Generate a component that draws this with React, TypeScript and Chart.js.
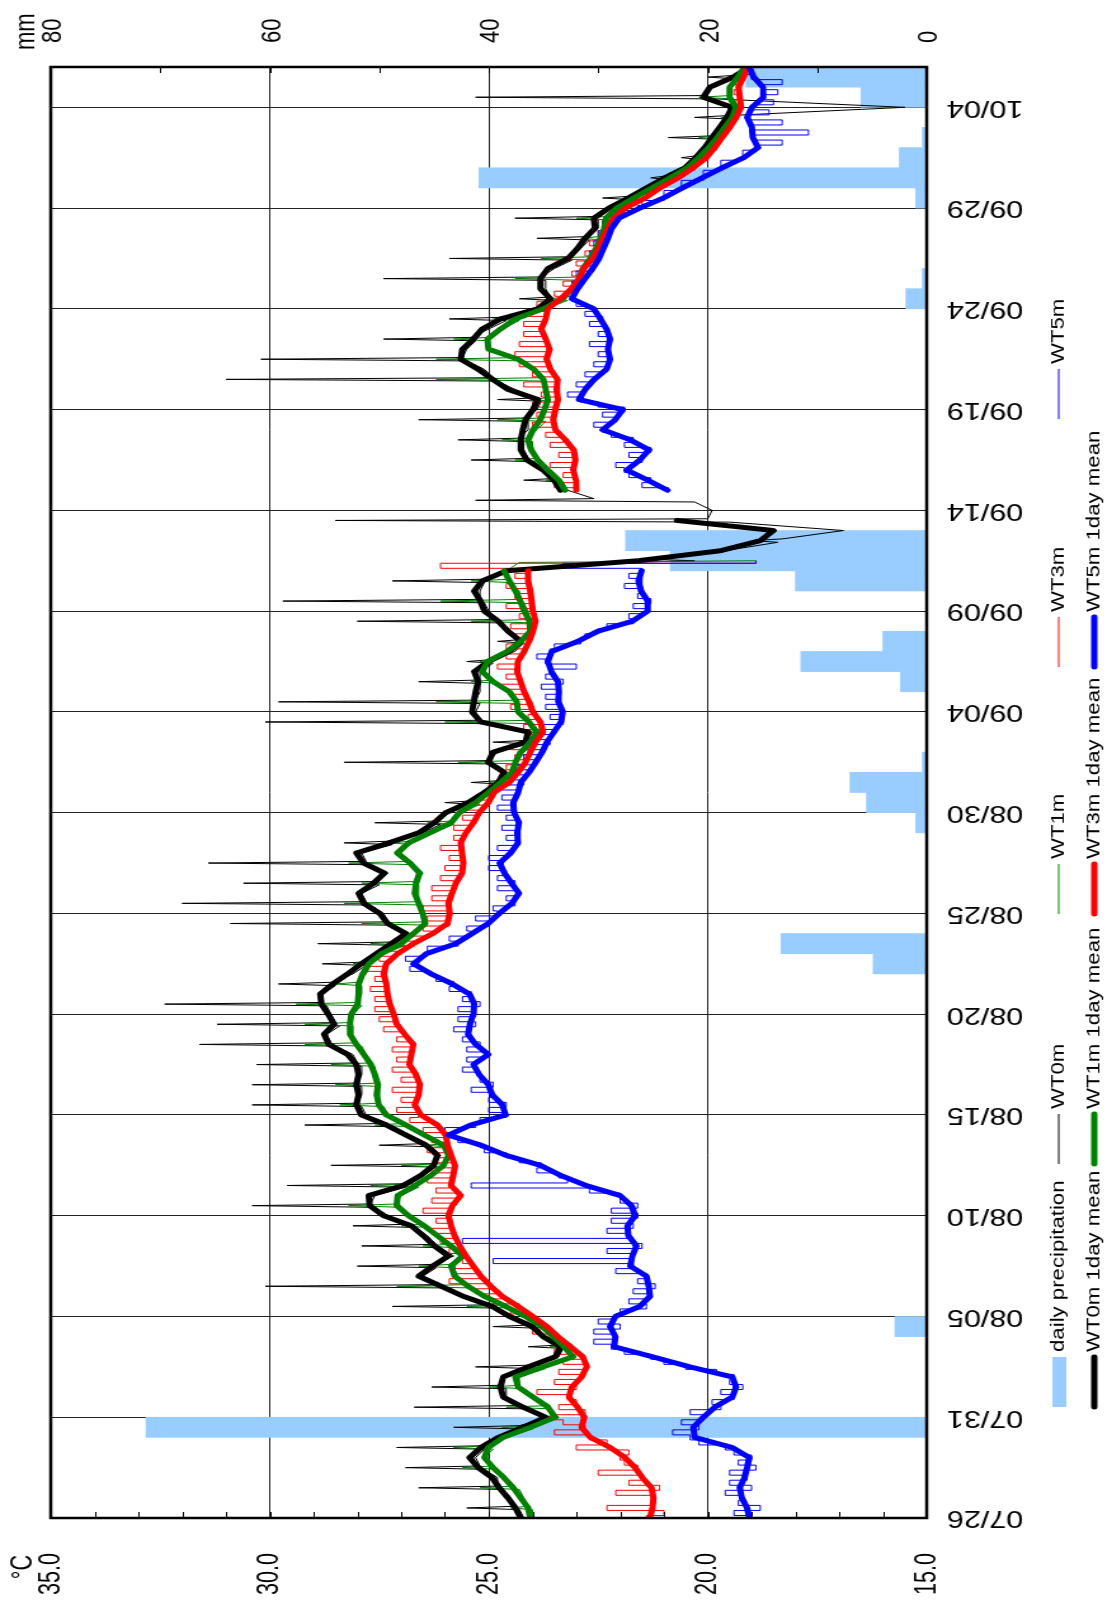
import { useEffect, useRef } from 'react';
import { Chart, registerables } from 'chart.js';

Chart.register(...registerables);

// Drawing surface (landscape), shown rotated a quarter turn on the page
const CANVAS_W = 1607;
const CANVAS_H = 872;
const STRETCH = 1107 / CANVAS_H;

const FONT = '"Liberation Sans", Arial, sans-serif';

// Time axis: days since 07/26 00:00
const dateTickDays = [0, 5, 10, 15, 20, 25, 30, 35, 40, 45, 50, 55, 60, 65, 70];
const dateLabels = ['07/26', '07/31', '08/05', '08/10', '08/15', '08/20', '08/25', '08/30', '09/04', '09/09', '09/14', '09/19', '09/24', '09/29', '10/04'];
const tempTicks = [15, 20, 25, 30, 35];
const precipTicks = [0, 20, 40, 60, 80];

// Daily precipitation (mm), one value per day from 07/26 to 10/05
const precipitation = [
  0, 0, 0, 0, 71.3, 0, 0, 0, 0, 2.9,
  0, 0, 0, 0, 0, 0, 0, 0, 0, 0,
  0, 0, 0, 0, 0, 0, 0, 4.9, 13.3, 0,
  0, 0, 0, 0, 1.0, 5.5, 7.0, 0.4, 0, 0,
  0, 2.4, 11.5, 4.0, 0, 0, 12.0, 23.4, 27.5, 0,
  0, 0, 0, 0, 0, 0, 0, 0, 0, 0,
  1.9, 0.4, 0, 0, 0, 1.0, 40.9, 2.5, 0.4, 0,
  6.0, 16.5,
];

// 1-day running means, every 12 hours from 07/26 00:00
const wt0mMean = [
  24.27, 24.39, 24.56, 24.76, 24.92, 25.24, 25.44, 25.18, 24.78, 24.22,
  23.70, 24.22, 24.67, 24.73, 24.67, 24.10, 23.48, 23.36, 23.76, 24.01,
  24.53, 24.92, 25.58, 26.09, 26.60, 26.28, 25.92, 26.24, 26.49, 26.77,
  27.40, 27.72, 27.74, 26.95, 26.55, 26.26, 26.17, 26.43, 26.89, 27.34,
  27.91, 28.02, 27.97, 28.02, 27.97, 28.02, 28.22, 28.65, 28.76, 28.53,
  28.67, 28.82, 28.85, 28.56, 28.22, 27.91, 27.57, 27.23, 26.89, 27.31,
  27.49, 27.85, 27.97, 27.63, 27.38, 27.86, 28.02, 27.28, 26.60, 26.24,
  25.98, 25.47, 25.10, 24.78, 24.65, 25.01, 24.90, 24.16, 24.10, 25.18,
  25.38, 25.34, 25.30, 25.24, 25.33, 25.01, 24.53, 24.27, 24.56, 24.78,
  25.10, 25.19, 25.33, 25.15, 24.60, 21.60, 19.70, 18.80, 18.50, 20.70,
  null, null, 23.36, 23.51, 23.76, 24.13, 24.27, 24.27, 24.22, 24.16,
  23.99, 23.88, 24.56, 24.91, 25.24, 25.64, 25.60, 25.35, 25.15, 24.73,
  23.88, 23.59, 23.82, 23.82, 23.65, 23.19, 22.97, 22.80, 22.57, 22.60,
  22.26, 21.81, 21.40, 20.98, 20.52, 20.27, 20.07, 19.90, 19.73, 19.56,
  19.44, 20.10, 19.95, 19.42, 19.05,
];
const wt1mMean = [
  24.05, 24.10, 24.27, 24.44, 24.65, 24.90, 25.10, 25.01, 24.67, 24.05,
  23.48, 23.65, 23.99, 24.33, 24.39, 23.76, 23.08, 23.28, 23.53, 23.78,
  24.16, 24.61, 25.10, 25.47, 25.78, 25.86, 25.60, 25.86, 26.17, 26.47,
  26.83, 27.10, 27.08, 26.68, 26.32, 26.03, 25.92, 26.03, 26.47, 26.89,
  27.34, 27.51, 27.56, 27.53, 27.60, 27.69, 27.85, 28.02, 28.17, 28.17,
  28.14, 27.99, 27.97, 27.97, 27.88, 27.74, 27.45, 27.00, 26.72, 26.45,
  26.51, 26.60, 26.69, 26.66, 26.58, 26.80, 27.09, 26.83, 26.34, 25.86,
  25.67, 25.30, 25.01, 24.73, 24.47, 24.39, 24.27, 24.05, 23.90, 24.08,
  24.33, 24.36, 24.53, 24.90, 25.15, 25.03, 24.58, 24.27, 24.05, 24.07,
  24.19, 24.28, 24.39, 24.53, 24.65, null, null, null, null, null,
  null, null, 23.26, 23.40, 23.65, 23.88, 24.03, 24.10, 23.99, 23.82,
  23.73, 23.65, 23.70, 23.75, 23.97, 24.33, 25.01, 25.03, 24.73, 24.39,
  23.76, 23.31, 23.10, 22.94, 22.85, 22.68, 22.55, 22.45, 22.36, 22.32,
  22.08, 21.69, 21.28, 20.86, 20.47, 20.20, 19.98, 19.78, 19.61, 19.44,
  19.36, 19.50, 19.50, 19.31, 19.16,
];
const wt3mMean = [
  21.32, 21.26, 21.24, 21.28, 21.49, 21.66, 21.89, 22.23, 22.68, 22.88,
  22.82, 22.97, 23.17, 23.10, 22.88, 22.76, 22.85, 23.13, 23.42, 23.67,
  23.99, 24.33, 24.69, 24.95, 25.18, 25.35, 25.52, 25.66, 25.78, 25.86,
  25.92, 25.83, 25.64, 25.86, 25.81, 25.77, 25.86, 25.94, 25.98, 26.17,
  26.55, 26.69, 26.60, 26.57, 26.66, 26.81, 26.77, 26.72, 26.92, 27.10,
  27.17, 27.26, 27.31, 27.34, 27.40, 27.34, 27.08, 26.72, 26.28, 25.94,
  25.89, 25.92, 25.84, 25.75, 25.61, 25.58, 25.61, 25.64, 25.52, 25.35,
  25.22, 25.01, 24.88, 24.53, 24.33, 24.16, 24.05, 23.93, 23.76, 23.82,
  23.99, 24.08, 24.19, 24.27, 24.35, 24.33, 24.19, 24.08, 23.99, 23.93,
  23.99, 24.02, 24.05, 24.10, 24.10, null, null, null, null, null,
  null, null, 23.00, 23.01, 23.07, 23.02, 23.06, 23.25, 23.48, 23.53,
  23.48, 23.42, 23.45, 23.43, 23.59, 23.68, 23.61, 23.70, 23.80, 23.70,
  23.65, 23.36, 23.11, 22.94, 22.83, 22.63, 22.49, 22.40, 22.28, 22.15,
  21.88, 21.43, 21.09, 20.67, 20.33, 20.03, 19.84, 19.67, 19.50, 19.35,
  19.24, 19.27, 19.30, 19.18, 19.10,
];
const wt5mMean = [
  19.05, 19.10, 19.22, 19.27, 19.16, 19.10, 19.05, 19.44, 20.30, 20.33,
  20.10, 19.84, 19.44, 19.35, 19.44, 20.41, 21.26, 22.14, 22.11, 22.23,
  22.11, 21.55, 21.32, 21.35, 21.40, 21.77, 21.72, 21.63, 21.81, 21.83,
  21.66, 21.74, 22.00, 22.78, 23.36, 23.82, 24.61, 25.18, 25.92, 25.41,
  24.61, 24.69, 24.92, 25.01, 25.22, 25.35, 25.01, 25.30, 25.47, 25.43,
  25.35, 25.33, 25.44, 25.83, 26.32, 26.72, 26.43, 25.75, 25.38, 25.01,
  24.76, 24.47, 24.31, 24.48, 24.64, 24.75, 24.50, 24.33, 24.35, 24.31,
  24.42, 24.44, 24.33, 24.27, 24.08, 23.93, 23.78, 23.67, 23.51, 23.35,
  23.31, 23.41, 23.40, 23.42, 23.57, 23.65, 23.56, 22.97, 22.51, 21.72,
  21.37, 21.37, 21.52, 21.58, 21.51, null, null, null, null, null,
  null, null, 20.92, 21.37, 21.85, 21.55, 21.34, 21.77, 22.40, 22.11,
  21.94, 22.94, 22.80, 22.59, 22.31, 22.23, 22.28, 22.23, 22.31, 22.45,
  22.60, 23.10, 22.97, 22.80, 22.63, 22.48, 22.38, 22.28, 22.19, 22.03,
  21.55, 21.01, 20.58, 20.13, 19.67, 19.18, 18.85, 18.97, 18.99, 19.10,
  18.99, 18.73, 18.74, 18.95, 19.05,
];

// Raw readings: four samples per day (hours of day listed below), plus 10/06 00:00
const surfaceHours = [0, 10, 12, 14];
const deepHours = [0, 6, 12, 18];

const wt0m = [
  24.2, 24.3, 25.5, 24.4, 24.5, 24.7, 26.6, 24.8,
  24.8, 25.1, 26.9, 25.2, 25.3, 25.1, 27.1, 25.2,
  24.7, 24.2, 25.8, 24.3, 23.6, 24.1, 26.7, 24.2,
  24.6, 24.6, 26.3, 24.8, 24.6, 24.0, 25.3, 24.1,
  23.4, 23.3, 24.1, 23.4, 23.7, 23.9, 24.9, 24.0,
  24.4, 24.8, 27.2, 24.9, 25.5, 26.0, 30.1, 26.1,
  26.5, 26.2, 28.0, 26.3, 25.8, 26.1, 27.9, 26.2,
  26.4, 26.7, 28.1, 26.8, 27.3, 27.6, 30.4, 27.7,
  27.6, 26.9, 29.6, 27.0, 26.5, 26.2, 28.6, 26.3,
  26.1, 26.3, 27.5, 26.4, 26.8, 27.2, 29.2, 27.3,
  27.8, 27.9, 30.4, 28.0, 27.9, 27.9, 30.4, 28.0,
  27.9, 27.9, 30.3, 28.0, 28.1, 28.5, 31.6, 28.6,
  28.7, 28.4, 31.2, 28.5, 28.6, 28.7, 32.4, 28.8,
  28.8, 28.5, 29.8, 28.6, 28.1, 27.8, 28.8, 27.9,
  27.5, 27.1, 28.9, 27.2, 26.8, 27.2, 30.9, 27.3,
  27.4, 27.7, 32.0, 27.8, 27.9, 27.5, 30.6, 27.6,
  27.3, 27.7, 31.4, 27.8, 27.9, 27.2, 28.3, 27.3,
  26.5, 26.1, 27.6, 26.2, 25.9, 25.4, 26.0, 25.4,
  25.0, 24.7, 25.4, 24.8, 24.6, 24.9, 28.3, 25.0,
  24.8, 24.1, 24.9, 24.2, 24.0, 25.0, 30.1, 25.2,
  25.3, 25.2, 29.8, 25.3, 25.2, 25.2, 26.6, 25.2,
  25.2, 24.9, 25.5, 25.0, 24.4, 24.2, 24.8, 24.3,
  24.5, 24.7, 28.0, 24.8, 25.0, 25.1, 29.7, 25.2,
  25.2, 25.1, 27.2, 25.1, 24.4, 21.9, 20.3, 21.5,
  19.6, 18.4, 19.0, 18.3, 16.9, 19.5, 28.5, 20.0,
  19.9, 20.3, 25.3, 22.6, 23.2, 23.4, 24.2, 23.5,
  23.7, 24.0, 25.4, 24.1, 24.2, 24.2, 25.7, 24.3,
  24.1, 24.1, 26.6, 24.2, 23.9, 23.8, 24.8, 23.9,
  24.4, 24.8, 31.0, 24.9, 25.1, 25.5, 30.2, 25.6,
  25.5, 25.3, 27.4, 25.4, 25.0, 24.6, 25.9, 24.7,
  23.8, 23.5, 24.3, 23.6, 23.7, 23.7, 27.4, 23.8,
  23.5, 23.1, 25.9, 23.2, 22.9, 22.7, 23.9, 22.8,
  22.5, 22.5, 24.4, 22.6, 22.2, 21.7, 22.4, 21.8,
  21.3, 20.9, 21.3, 21.0, 20.4, 20.2, 20.6, 20.3,
  20.0, 19.8, 20.9, 19.9, 19.6, 19.5, 20.3, 19.6,
  15.5, 19.8, 25.3, 20.1, 20.0, 19.4, 20.0, 19.4,
  19.0,
];
const wt1m = [
  24.0, 24.0, 24.5, 24.1, 24.2, 24.3, 25.2, 24.4,
  24.6, 24.8, 25.6, 24.9, 25.1, 24.9, 25.8, 25.0,
  24.6, 24.0, 24.7, 24.0, 23.4, 23.6, 24.6, 23.6,
  23.9, 24.2, 25.0, 24.3, 24.3, 23.7, 24.2, 23.8,
  23.0, 23.2, 23.6, 23.3, 23.5, 23.7, 24.1, 23.8,
  24.1, 24.5, 25.5, 24.6, 25.0, 25.4, 27.1, 25.5,
  25.7, 25.8, 26.6, 25.9, 25.5, 25.8, 26.5, 25.9,
  26.1, 26.4, 27.0, 26.5, 26.8, 27.0, 28.2, 27.1,
  27.0, 26.6, 27.7, 26.7, 26.3, 26.0, 27.0, 26.0,
  25.9, 26.0, 26.4, 26.0, 26.4, 26.8, 27.6, 26.9,
  27.3, 27.4, 28.4, 27.5, 27.5, 27.5, 28.5, 27.5,
  27.6, 27.6, 28.6, 27.7, 27.8, 27.9, 29.2, 28.0,
  28.1, 28.1, 29.2, 28.2, 28.1, 27.9, 29.4, 28.0,
  27.9, 27.9, 28.5, 28.0, 27.8, 27.7, 28.1, 27.7,
  27.4, 26.9, 27.7, 27.0, 26.7, 26.4, 27.9, 26.5,
  26.5, 26.5, 28.3, 26.6, 26.6, 26.6, 27.9, 26.7,
  26.5, 26.7, 28.2, 26.8, 27.0, 26.8, 27.2, 26.8,
  26.3, 25.8, 26.4, 25.9, 25.6, 25.2, 25.5, 25.3,
  25.0, 24.7, 25.0, 24.7, 24.4, 24.3, 25.7, 24.4,
  24.2, 24.0, 24.3, 24.1, 23.9, 24.0, 26.0, 24.1,
  24.3, 24.3, 26.2, 24.4, 24.5, 24.8, 25.4, 24.9,
  25.1, 25.0, 25.2, 25.0, 24.5, 24.2, 24.4, 24.3,
  24.0, 24.0, 25.4, 24.1, 24.1, 24.2, 26.1, 24.3,
  24.3, 24.5, 25.4, 24.5, 24.6, 24.3, 18.9, null,
  null, null, null, null, null, null, null, null,
  null, null, null, null, 23.2, 23.3, 23.7, 23.4,
  23.6, 23.8, 24.4, 23.9, 24.0, 24.0, 24.7, 24.1,
  23.9, 23.7, 24.8, 23.8, 23.7, 23.6, 24.0, 23.7,
  23.7, 23.7, 26.2, 23.8, 23.9, 24.2, 26.2, 24.3,
  25.0, 25.0, 25.8, 25.0, 24.7, 24.3, 24.9, 24.4,
  23.7, 23.2, 23.6, 23.3, 23.1, 22.9, 24.4, 22.9,
  22.8, 22.6, 23.8, 22.7, 22.5, 22.4, 22.9, 22.5,
  22.3, 22.3, 23.0, 22.3, 22.0, 21.6, 21.9, 21.7,
  21.2, 20.8, 21.0, 20.9, 20.4, 20.1, 20.3, 20.2,
  19.9, 19.7, 20.2, 19.8, 19.6, 19.4, 19.7, 19.4,
  19.3, 19.4, 20.2, 19.5, 19.5, 19.3, 19.4, 19.3,
  19.2,
];
const wt3m = [
  21.4, 21.0, 22.3, 21.3, 21.2, 22.1, 21.1, 21.8,
  21.5, 22.5, 21.6, 21.9, 22.0, 21.8, 23.0, 22.3,
  22.7, 23.5, 22.8, 23.3, 23.6, 22.8, 23.4, 23.0,
  23.2, 23.9, 23.0, 23.5, 22.9, 23.4, 22.8, 23.3,
  22.9, 23.5, 23.1, 23.4, 23.4, 24.0, 23.7, 24.1,
  24.0, 24.5, 24.3, 24.9, 24.7, 25.3, 25.0, 25.9,
  25.2, 25.8, 25.4, 25.6, 25.5, 25.9, 25.7, 26.1,
  25.8, 26.3, 25.9, 26.2, 25.9, 26.5, 25.8, 26.3,
  25.7, 26.2, 25.9, 26.4, 25.8, 26.3, 25.8, 26.2,
  25.9, 26.4, 25.9, 26.3, 26.0, 26.5, 26.2, 26.8,
  26.6, 27.1, 26.7, 27.0, 26.6, 27.2, 26.6, 27.0,
  26.7, 27.2, 26.8, 27.1, 26.8, 27.2, 26.7, 27.1,
  26.9, 27.4, 27.1, 27.5, 27.2, 27.6, 27.3, 27.6,
  27.3, 27.7, 27.3, 27.6, 27.4, 27.8, 27.3, 27.5,
  27.1, 27.3, 26.7, 26.9, 26.3, 26.5, 25.9, 26.4,
  25.9, 26.5, 25.9, 26.3, 25.8, 26.3, 25.8, 26.1,
  25.6, 26.0, 25.6, 25.9, 25.6, 26.1, 25.6, 25.8,
  25.5, 25.8, 25.4, 25.6, 25.2, 25.5, 25.0, 25.3,
  24.9, 25.0, 24.5, 24.7, 24.3, 24.6, 24.2, 24.4,
  24.1, 24.5, 23.9, 24.1, 23.8, 24.2, 23.8, 24.1,
  24.0, 24.5, 24.1, 24.4, 24.2, 24.7, 24.3, 24.6,
  24.4, 24.8, 24.3, 24.6, 24.2, 24.6, 24.1, 24.4,
  24.0, 24.5, 23.9, 24.3, 24.0, 24.6, 24.0, 24.4,
  24.1, 24.6, 24.1, 24.4, 24.1, 26.1, 18.9, null,
  null, null, null, null, null, null, null, null,
  null, null, null, null, 23.0, 23.5, 23.0, 23.3,
  23.1, 23.6, 23.0, 23.4, 23.1, 23.6, 23.3, 23.7,
  23.5, 24.0, 23.5, 23.9, 23.5, 24.0, 23.4, 23.8,
  23.5, 24.2, 23.4, 24.0, 23.6, 24.3, 23.7, 24.4,
  23.6, 24.3, 23.7, 24.2, 23.8, 24.2, 23.7, 24.1,
  23.7, 23.9, 23.4, 23.5, 23.1, 23.3, 22.9, 23.1,
  22.8, 23.0, 22.6, 22.8, 22.5, 22.7, 22.4, 22.5,
  22.3, 22.4, 22.1, 22.2, 21.9, 21.8, 21.4, 21.4,
  21.1, 21.0, 20.7, 20.6, 20.3, 20.3, 20.0, 20.0,
  19.8, 19.9, 19.7, 19.7, 19.5, 19.6, 19.4, 19.4,
  19.2, 19.4, 19.3, 19.4, 19.3, 19.4, 19.2, 19.2,
  19.1,
];
const wt5m = [
  19.0, 19.4, 18.8, 19.3, 19.2, 19.6, 19.0, 19.5,
  19.1, 19.5, 18.9, 19.3, 19.0, 19.4, 19.6, 20.2,
  20.4, 20.8, 20.2, 20.6, 20.1, 20.4, 19.7, 19.9,
  19.4, 19.7, 19.2, 19.5, 19.4, 19.8, 20.5, 21.0,
  21.3, 21.9, 22.2, 22.6, 22.1, 22.6, 22.0, 22.5,
  22.1, 22.0, 21.4, 21.8, 21.3, 21.7, 21.2, 21.6,
  21.4, 22.1, 21.7, 24.9, 21.7, 22.3, 21.5, 25.6,
  21.8, 22.3, 21.7, 22.2, 21.6, 22.2, 21.6, 22.0,
  22.0, 22.7, 25.4, 23.2, 23.4, 23.9, 23.8, 24.3,
  24.6, 25.1, 25.2, 25.7, 25.9, 26.0, 25.3, 25.2,
  24.6, 25.0, 24.6, 25.0, 24.9, 25.4, 24.9, 25.2,
  25.2, 25.6, 25.3, 25.5, 25.0, 25.5, 25.2, 25.6,
  25.5, 25.8, 25.3, 25.7, 25.3, 25.7, 25.2, 25.6,
  25.4, 25.9, 25.8, 26.2, 26.3, 26.8, 26.6, 26.9,
  26.4, 26.4, 25.7, 25.9, 25.4, 25.5, 25.0, 25.3,
  24.8, 24.9, 24.4, 24.6, 24.3, 24.8, 24.4, 24.8,
  24.6, 25.0, 24.7, 25.0, 24.5, 24.8, 24.3, 24.6,
  24.4, 24.7, 24.3, 24.6, 24.4, 24.8, 24.4, 24.7,
  24.3, 24.7, 24.2, 24.5, 24.1, 24.4, 23.9, 24.2,
  23.8, 24.1, 23.6, 23.9, 23.5, 23.8, 23.3, 23.6,
  23.3, 23.7, 23.4, 23.7, 23.4, 23.8, 23.3, 23.7,
  23.6, 23.0, 23.7, 23.9, 23.6, 23.5, 22.9, 22.8,
  22.5, 22.3, 21.7, 21.8, 21.4, 21.7, 21.3, 21.6,
  21.5, 21.9, 21.5, 21.8, 21.5, 23.3, 18.9, null,
  null, null, null, null, null, null, null, null,
  null, null, null, null, 20.9, 21.5, 21.3, 21.8,
  21.9, 22.1, 21.5, 21.8, 21.3, 21.9, 21.7, 22.2,
  22.4, 22.6, 22.1, 22.4, 21.9, 22.5, 22.9, 23.2,
  22.8, 23.0, 22.6, 22.8, 22.3, 22.6, 22.2, 22.5,
  22.3, 22.7, 22.2, 22.5, 22.3, 22.7, 22.4, 22.8,
  22.6, 23.0, 23.1, 23.2, 23.0, 23.1, 22.8, 23.0,
  22.6, 22.8, 22.5, 22.7, 22.4, 22.6, 22.3, 22.5,
  22.2, 22.4, 22.0, 22.1, 21.6, 21.5, 21.0, 21.0,
  20.6, 20.6, 20.1, 20.1, 19.7, 19.7, 19.2, 19.2,
  18.9, 18.3, 19.0, 17.7, 19.0, 18.3, 19.1, 18.6,
  19.0, 18.5, 18.7, 18.4, 18.7, 18.3, 19.0, 19.1,
  19.05,
];

const COLORS = {
  precip: 'rgb(153, 204, 255)',
  wt0m: 'rgb(0, 0, 0)',
  wt1m: 'rgb(0, 128, 0)',
  wt3m: 'rgb(255, 0, 0)',
  wt5m: 'rgb(0, 0, 255)',
};

const halfDaySeries = (values: (number | null)[]) =>
  values.map((v, k) => ({ x: k / 2, y: v }));
const sampledSeries = (values: (number | null)[], hours: number[]) =>
  values.map((v, k) => ({ x: Math.floor(k / 4) + hours[k % 4] / 24, y: v }));

const thin = (label: string, color: string, data: any[], order: number, stepped: false | 'middle') => ({
  type: 'line' as const,
  label,
  data,
  yAxisID: 'y',
  borderColor: color,
  backgroundColor: color,
  borderWidth: 1,
  pointRadius: 0,
  stepped,
  spanGaps: false,
  order,
});
const thick = (label: string, color: string, data: any[], order: number) => ({
  type: 'line' as const,
  label,
  data,
  yAxisID: 'y',
  borderColor: color,
  backgroundColor: color,
  borderWidth: 5,
  borderJoinStyle: 'round' as const,
  borderCapStyle: 'round' as const,
  pointRadius: 0,
  spanGaps: false,
  order,
});

// Legend grid: [datasetIndex, row, column]
const legendCells: [number, number, number][] = [
  [0, 0, 0], [1, 0, 1], [2, 0, 2], [3, 0, 3], [4, 0, 4],
  [5, 1, 0], [6, 1, 1], [7, 1, 2], [8, 1, 3],
];
const legendColumnX = [197, 440, 690, 937, 1185];
const legendRowY = [834, 862];

const decorPlugin = {
  id: 'frameLabelsLegend',
  afterDatasetsDraw(chart: any) {
    const { ctx, chartArea: a, scales } = chart;
    ctx.save();
    ctx.strokeStyle = '#000';
    ctx.lineWidth = 1;
    ctx.beginPath();
    for (let v = 16; v < 35; v++) {
      const y = Math.round(scales.y.getPixelForValue(v)) + 0.5;
      ctx.moveTo(a.left, y);
      ctx.lineTo(a.left + 6, y);
    }
    for (let v = 10; v < 80; v += 10) {
      const y = Math.round(scales.yP.getPixelForValue(v)) + 0.5;
      ctx.moveTo(a.right - 6, y);
      ctx.lineTo(a.right, y);
    }
    ctx.stroke();
    ctx.lineWidth = 2.5;
    ctx.strokeRect(a.left, a.top, a.right - a.left, a.bottom - a.top);
    ctx.restore();
  },
  afterDraw(chart: any) {
    const { ctx, chartArea: a, scales } = chart;
    ctx.save();
    ctx.fillStyle = '#000';
    ctx.textBaseline = 'middle';

    // temperature axis
    ctx.font = `24px ${FONT}`;
    ctx.textAlign = 'right';
    for (const v of tempTicks) {
      const y = scales.y.getPixelForValue(v);
      ctx.save();
      ctx.translate(54, y);
      ctx.scale(0.9, 1);
      ctx.fillText(v.toFixed(1), 0, 0);
      ctx.restore();
    }
    ctx.save();
    ctx.translate(52, 18);
    ctx.scale(0.9, 1);
    ctx.fillText('°C', 0, 0);
    ctx.restore();

    // precipitation axis
    ctx.font = `22px ${FONT}`;
    ctx.textAlign = 'left';
    for (const v of precipTicks) {
      const y = scales.yP.getPixelForValue(v);
      ctx.fillText(String(v), a.right + 24, y + 2);
    }
    ctx.fillText('mm', a.right + 17, 21);

    // legend
    const ds = chart.data.datasets;
    ctx.font = `15px ${FONT}`;
    for (const [i, row, col] of legendCells) {
      const d = ds[i];
      const x0 = legendColumnX[col];
      const y = legendRowY[row];
      if (d.type === 'bar') {
        ctx.fillStyle = d.backgroundColor;
        ctx.fillRect(x0 + 3, y - 5, 50, 11);
      } else {
        ctx.strokeStyle = d.borderColor;
        ctx.lineWidth = d.borderWidth;
        ctx.lineCap = d.borderWidth > 2 ? 'round' : 'butt';
        ctx.beginPath();
        ctx.moveTo(x0 + 3, y);
        ctx.lineTo(x0 + 53, y);
        ctx.stroke();
      }
      ctx.fillStyle = '#000';
      ctx.save();
      ctx.translate(x0 + 58, y);
      ctx.scale(1.48, 1);
      ctx.fillText(d.label, 0, 0);
      ctx.restore();
    }
    ctx.restore();
  },
};

export default function App() {
  const canvasRef = useRef<HTMLCanvasElement>(null);

  useEffect(() => {
    const canvas = canvasRef.current;
    if (!canvas) return;
    Chart.defaults.font.family = FONT;
    Chart.defaults.color = '#000';

    const chart = new Chart(canvas, {
      type: 'line',
      data: {
        datasets: [
          {
            type: 'bar',
            label: 'daily precipitation',
            data: precipitation.map((v, i) => ({ x: i + 0.5, y: v })),
            yAxisID: 'yP',
            backgroundColor: COLORS.precip,
            borderWidth: 0,
            barPercentage: 1,
            categoryPercentage: 1,
            order: 20,
          } as any,
          thin('WT0m', COLORS.wt0m, sampledSeries(wt0m, surfaceHours), 19, false),
          thin('WT1m', COLORS.wt1m, sampledSeries(wt1m, surfaceHours), 18, false),
          thin('WT3m', COLORS.wt3m, sampledSeries(wt3m, deepHours), 17, 'middle'),
          thin('WT5m', COLORS.wt5m, sampledSeries(wt5m, deepHours), 16, 'middle'),
          thick('WT0m 1day mean', COLORS.wt0m, halfDaySeries(wt0mMean), 15),
          thick('WT1m 1day mean', COLORS.wt1m, halfDaySeries(wt1mMean), 14),
          thick('WT3m 1day mean', COLORS.wt3m, halfDaySeries(wt3mMean), 13),
          thick('WT5m 1day mean', COLORS.wt5m, halfDaySeries(wt5mMean), 12),
        ],
      },
      options: {
        responsive: false,
        animation: false,
        devicePixelRatio: 1,
        layout: { padding: { top: 40, left: 0, right: 0, bottom: 0 } },
        plugins: {
          legend: { display: false },
          tooltip: { enabled: false },
        },
        elements: { point: { radius: 0 }, line: { tension: 0 } },
        scales: {
          x: {
            type: 'linear',
            position: 'bottom',
            min: 0,
            max: 72,
            offset: false,
            afterBuildTicks: (scale: any) => {
              scale.ticks = dateTickDays.map((value) => ({ value }));
            },
            afterFit: (scale: any) => {
              scale.height = 142;
            },
            ticks: {
              autoSkip: false,
              minRotation: 90,
              maxRotation: 90,
              padding: 16,
              font: { size: 24, family: FONT },
              color: '#000',
              callback: (value: any) => {
                const i = dateTickDays.indexOf(Number(value));
                return i >= 0 ? dateLabels[i] : '';
              },
            },
            grid: { color: '#222', lineWidth: 1, drawTicks: false, offset: false },
            border: { display: false },
          },
          y: {
            type: 'linear',
            position: 'left',
            min: 15,
            max: 35,
            afterBuildTicks: (scale: any) => {
              scale.ticks = tempTicks.map((value) => ({ value }));
            },
            afterFit: (scale: any) => {
              scale.width = 89;
            },
            ticks: { display: false },
            grid: { color: '#222', lineWidth: 1, drawTicks: false },
            border: { display: false },
          },
          yP: {
            type: 'linear',
            position: 'right',
            min: 0,
            max: 80,
            afterBuildTicks: (scale: any) => {
              scale.ticks = precipTicks.map((value) => ({ value }));
            },
            afterFit: (scale: any) => {
              scale.width = 67;
            },
            ticks: { display: false },
            grid: { display: false, drawTicks: false },
            border: { display: false },
          },
        },
      } as any,
      plugins: [decorPlugin],
    });

    return () => chart.destroy();
  }, []);

  return (
    <div
      style={{
        position: 'absolute',
        left: 0,
        top: 0,
        width: 1107,
        height: 1607,
        overflow: 'hidden',
        background: '#fff',
      }}
    >
      <canvas
        ref={canvasRef}
        width={CANVAS_W}
        height={CANVAS_H}
        style={{
          position: 'absolute',
          left: 0,
          top: 0,
          width: CANVAS_W,
          height: CANVAS_H,
          transformOrigin: '0 0',
          transform: `translate(0px, ${CANVAS_W}px) rotate(-90deg) scale(1, ${STRETCH})`,
        }}
      />
    </div>
  );
}
